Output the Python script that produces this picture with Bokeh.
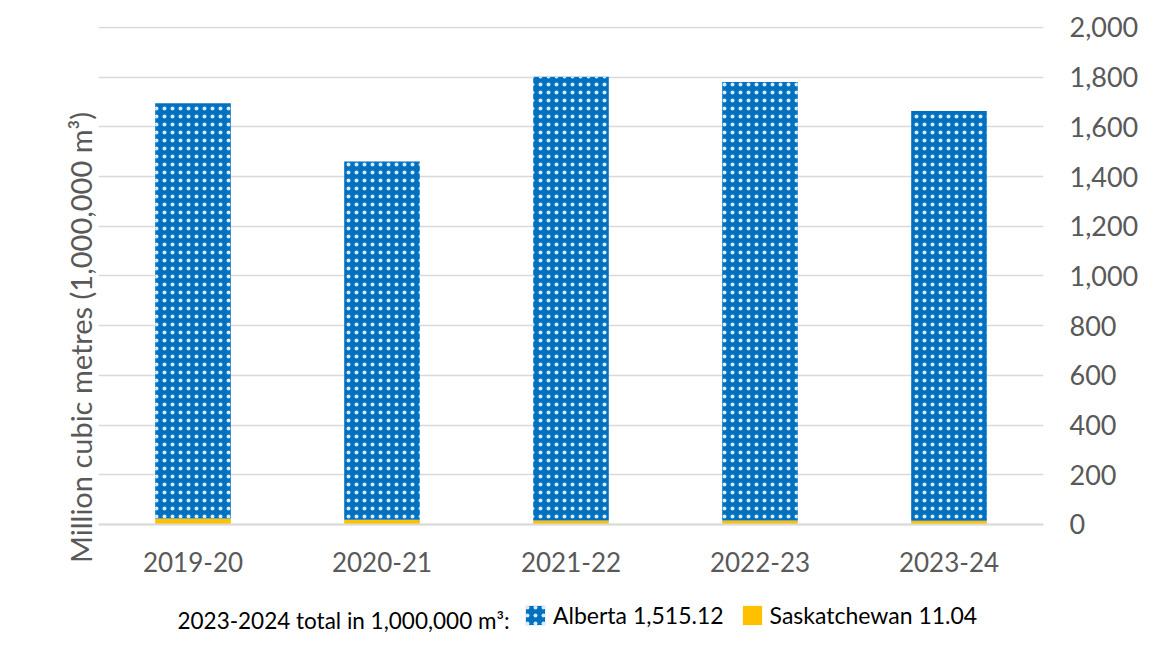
from bokeh.plotting import figure
from bokeh.models import (ColumnDataSource, FactorRange, FixedTicker, NumeralTickFormatter,
                          Title, Legend, LegendItem, Label, CategoricalAxis)
from bokeh.embed import file_html
from bokeh.resources import INLINE

years = ["2019-20", "2020-21", "2021-22", "2022-23", "2023-24"]
saskatchewan = [24, 19, 16, 16, 15]
alberta = [1671, 1442, 1786, 1765, 1649]
y_ticks = [0, 200, 400, 600, 800, 1000, 1200, 1400, 1600, 1800, 2000]
legend_prefix = "2023-2024 total in 1,000,000 m³:"
legend_labels = ["Alberta 1,515.12", "Saskatchewan 11.04"]
y_title = "Million cubic metres (1,000,000 m³)"

FONT = "Lato"
GRAY = "#595959"
BLUE = "#0070C0"
YELLOW = "#FFC000"

source = ColumnDataSource(dict(year=years, sask=saskatchewan, alberta=alberta))

# frame spans down to the bottom edge; the category axis is pinned at y = 0
p = figure(width=1170, height=648, output_backend="svg", toolbar_location=None,
           x_range=FactorRange(*years, range_padding=0), y_range=(-499, 2004),
           y_axis_location="right", x_axis_location=None,
           min_border_left=98, min_border_right=127, min_border_top=26, min_border_bottom=0)
p.outline_line_color = None
p.background_fill_color = "white"
p.border_fill_color = "white"

renderers = p.vbar_stack(["sask", "alberta"], x="year", width=0.4, source=source,
                         fill_color=[YELLOW, BLUE], line_color=None,
                         hatch_pattern=[" ", "dot"], hatch_color="white",
                         hatch_scale=8, hatch_weight=0.9, hatch_alpha=0.85)

# right value axis
yax = p.yaxis[0]
yax.ticker = FixedTicker(ticks=y_ticks)
yax.formatter = NumeralTickFormatter(format="0,0")
yax.axis_line_color = None
yax.major_tick_line_color = None
yax.minor_tick_line_color = None
yax.major_tick_out = 0
yax.major_tick_in = 0
yax.major_label_standoff = 26
yax.major_label_text_font = FONT
yax.major_label_text_font_size = "27px"
yax.major_label_text_color = GRAY

# category axis drawn at y = 0
xax = CategoricalAxis(fixed_location=0)
xax.axis_line_color = "#D9D9D9"
xax.axis_line_width = 2
xax.major_tick_line_color = None
xax.minor_tick_line_color = None
xax.major_tick_out = 0
xax.major_tick_in = 0
xax.major_label_standoff = 28
xax.major_label_text_font = FONT
xax.major_label_text_font_size = "26px"
xax.major_label_text_color = GRAY
p.add_layout(xax, "below")

p.xgrid.grid_line_color = None
p.ygrid.grid_line_color = "#D9D9D9"
p.ygrid.grid_line_width = 1.4

# y title (left side)
p.add_layout(Title(text=y_title, align="center", offset=0, standoff=1,
                   text_font=FONT, text_font_size="29px", text_color=GRAY,
                   text_font_style="normal"), "left")

# legend row
p.add_layout(Label(x=79, y=28, x_units="screen", y_units="screen", text=legend_prefix,
                   text_align="left", text_baseline="middle",
                   text_font=FONT, text_font_size="22.5px", text_color="black"))

legend = Legend(items=[LegendItem(label=legend_labels[0], renderers=[renderers[1]]),
                       LegendItem(label=legend_labels[1], renderers=[renderers[0]])],
                location=(425, 19), orientation="horizontal",
                glyph_width=24, glyph_height=24, label_height=24, label_standoff=6,
                spacing=16, padding=0, margin=0,
                border_line_color=None, background_fill_alpha=0,
                label_text_font=FONT, label_text_font_size="23px", label_text_color="black")
p.add_layout(legend, "center")

open("out.html", "w").write(file_html(p, INLINE))
